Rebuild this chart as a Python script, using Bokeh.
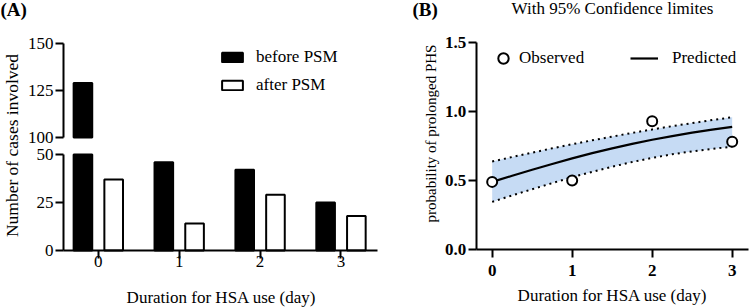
import math

from bokeh.embed import file_html
from bokeh.layouts import row
from bokeh.models import (ColumnDataSource, FixedTicker, Label, Legend,
                          LegendItem, LinearAxis, Range1d)
from bokeh.plotting import figure
from bokeh.resources import INLINE

FONT = "Liberation Serif"
FS = "17px"

# ---- Panel A: number of cases by duration of HSA use ----
durations = [0, 1, 2, 3]
before_psm = [129, 46, 42, 25]
after_psm = [37, 14, 29, 18]
low_ticks = [0, 25, 50]
high_ticks = [100, 125, 150]
duration_ticks = [0, 1, 2, 3]

# ---- Panel B: observed vs predicted probability of prolonged PHS ----
obs_days = [0, 1, 2, 3]
observed = [0.49, 0.50, 0.93, 0.78]
fit_days = [0, 0.25, 0.5, 0.75, 1.0, 1.25, 1.5, 1.75, 2.0, 2.25, 2.5, 2.75, 3.0]
predicted = [0.490, 0.534, 0.578, 0.620, 0.660, 0.698, 0.733, 0.765, 0.795,
             0.822, 0.847, 0.869, 0.889]
ci_upper = [0.638, 0.670, 0.702, 0.733, 0.763, 0.791, 0.818, 0.845, 0.870,
            0.894, 0.916, 0.938, 0.958]
ci_lower = [0.345, 0.392, 0.437, 0.481, 0.524, 0.563, 0.600, 0.634, 0.664,
            0.690, 0.711, 0.729, 0.745]
prob_ticks = [0, 0.5, 1.0, 1.5]


def make_axis(bold=False, standoff=2, **kw):
    ax = LinearAxis(**kw)
    ax.axis_line_width = 2
    ax.axis_line_color = "black"
    ax.major_tick_line_width = 2
    ax.major_tick_line_color = "black"
    ax.major_tick_out = 8
    ax.major_tick_in = 0
    ax.minor_tick_line_color = None
    ax.major_label_standoff = standoff
    ax.major_label_text_font = FONT
    ax.major_label_text_font_size = FS
    ax.major_label_text_color = "black"
    ax.major_label_text_font_style = "bold" if bold else "normal"
    return ax


def text(p, x, y, s, size=FS, bold=False, align="left", angle=0.0):
    p.add_layout(Label(x=x, y=y, x_units="screen", y_units="screen", text=s,
                       text_font=FONT, text_font_size=size,
                       text_font_style="bold" if bold else "normal",
                       text_color="black", text_align=align,
                       text_baseline="middle", angle=angle))


def bare_figure(width, height, x_range, y_range):
    p = figure(frame_width=width, frame_height=height,
               x_range=x_range, y_range=y_range,
               x_axis_location=None, y_axis_location=None,
               min_border=0, output_backend="svg", toolbar_location=None)
    p.grid.visible = False
    p.outline_line_color = None
    return p


# ------------------------------------------------------------------ Panel A
# Broken count axis: 0-50 on the main range, 100-150 on the "upper" range.
LOW_MAX = low_ticks[-1]
HIGH_MIN = high_ticks[0]
BAR_W = 0.23
OFF = 0.19
XA0, XA1 = -0.43, 3.45

pa = bare_figure(390, 308, Range1d(-1.209, 3.612), Range1d(-30.21, 130.21))
pa.extra_y_ranges = {"upper": Range1d(9.04, 172.87)}

series = [("before PSM", before_psm, -OFF, "black"),
          ("after PSM", after_psm, OFF, "white")]
legend_items = []
for name, vals, off, fill in series:
    xs = [d + off for d in durations]
    low = ColumnDataSource(dict(x=xs, top=[min(v, LOW_MAX) for v in vals]))
    r = pa.vbar(x="x", top="top", bottom=0, width=BAR_W, source=low,
                fill_color=fill, line_color="black", line_width=2)
    legend_items.append(LegendItem(label=name, renderers=[r]))
    hx = [x for x, v in zip(xs, vals) if v > HIGH_MIN]
    hv = [v for v in vals if v > HIGH_MIN]
    if hv:
        high = ColumnDataSource(dict(x=hx, top=hv))
        pa.vbar(x="x", top="top", bottom=HIGH_MIN, width=BAR_W, source=high,
                y_range_name="upper", fill_color=fill, line_color="black",
                line_width=2)

pa.add_layout(make_axis(bounds=(low_ticks[0], low_ticks[-1]),
                        ticker=FixedTicker(ticks=low_ticks),
                        fixed_location=XA0), "left")
pa.add_layout(make_axis(y_range_name="upper",
                        bounds=(high_ticks[0], high_ticks[-1]),
                        ticker=FixedTicker(ticks=high_ticks),
                        fixed_location=XA0), "left")
pa.add_layout(make_axis(standoff=-2, bounds=(XA0, XA1),
                        ticker=FixedTicker(ticks=duration_ticks),
                        fixed_location=0), "below")

leg_a = Legend(items=legend_items, location=(219, 213), orientation="vertical",
               glyph_width=26, glyph_height=12, label_standoff=11, spacing=8,
               padding=0, margin=0, border_line_color=None,
               background_fill_alpha=0, label_text_font=FONT,
               label_text_font_size=FS, label_text_color="black")
pa.add_layout(leg_a, "center")

text(pa, 0, 299, "(A)", size="19px", bold=True)
text(pa, 11, 163, "Number of cases involved", size="17.5px", align="center",
     angle=math.pi / 2)
text(pa, 221, 11, "Duration for HSA use (day)", align="center")

# ------------------------------------------------------------------ Panel B
XB0, XB1 = -0.2, 3.2
pb = bare_figure(360, 308, Range1d(-1.271, 3.229), Range1d(-0.4275, 1.8043))

fit = ColumnDataSource(dict(x=fit_days, y=predicted, lo=ci_lower, hi=ci_upper))
pb.varea(x="x", y1="lo", y2="hi", source=fit, fill_color="#c6dbf4")
pb.line(x="x", y="hi", source=fit, line_color="black", line_width=2,
        line_dash="2 4")
pb.line(x="x", y="lo", source=fit, line_color="black", line_width=2,
        line_dash="2 4")
r_pred = pb.line(x="x", y="y", source=fit, line_color="black", line_width=2.2)
r_obs = pb.scatter(x=obs_days, y=observed, marker="circle", size=10,
                   fill_color="white", line_color="black", line_width=2)

yb = make_axis(bold=True, bounds=(0, 1.5), ticker=FixedTicker(ticks=prob_ticks),
               fixed_location=XB0)
yb.major_label_overrides = {t: f"{t:.1f}" for t in prob_ticks}
pb.add_layout(yb, "left")
pb.add_layout(make_axis(bold=True, standoff=7, bounds=(XB0, XB1),
                        ticker=FixedTicker(ticks=duration_ticks),
                        fixed_location=0), "below")

leg_obs = Legend(items=[LegendItem(label="Observed", renderers=[r_obs])],
                 location=(100, 237), glyph_width=26, glyph_height=26,
                 label_standoff=3, padding=0, margin=0,
                 border_line_color=None, background_fill_alpha=0,
                 label_text_font=FONT, label_text_font_size=FS,
                 label_text_color="black")
leg_pred = Legend(items=[LegendItem(label="Predicted", renderers=[r_pred])],
                  location=(240, 237), glyph_width=28, glyph_height=26,
                  label_standoff=14, padding=0, margin=0,
                  border_line_color=None, background_fill_alpha=0,
                  label_text_font=FONT, label_text_font_size=FS,
                  label_text_color="black")
pb.add_layout(leg_obs, "center")
pb.add_layout(leg_pred, "center")

text(pb, 22, 299, "(B)", size="19px", bold=True)
text(pb, 222, 300, "With 95% Confidence limites", align="center")
text(pb, 40, 175, "probability of prolonged PHS", size="15px", align="center",
     angle=math.pi / 2)
text(pb, 222, 13, "Duration for HSA use (day)", align="center")

layout = row(pa, pb, spacing=0)
open("out.html", "w").write(file_html(layout, INLINE))
